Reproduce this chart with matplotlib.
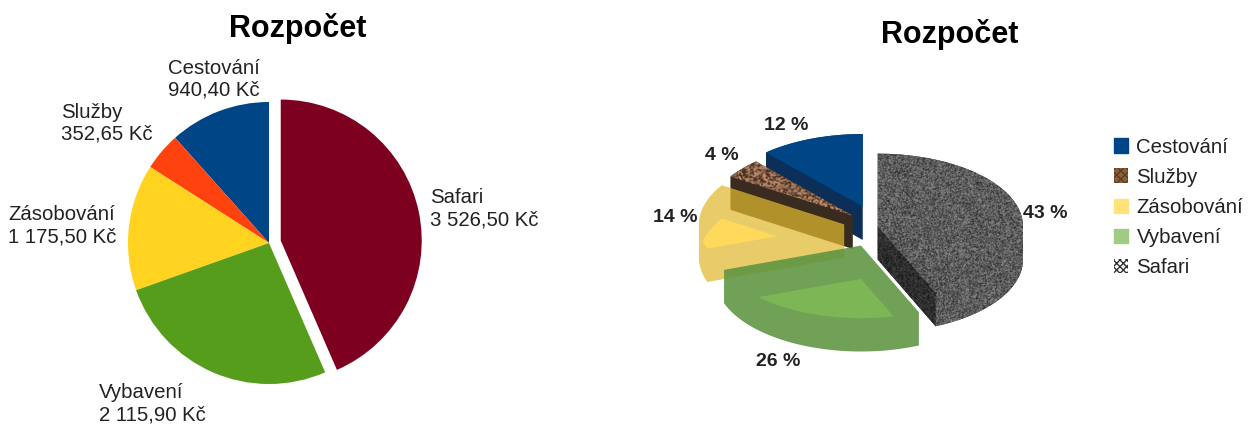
import numpy as np
import matplotlib
matplotlib.use("Agg")
import matplotlib.pyplot as plt
from matplotlib.patches import Patch, Polygon

plt.rcParams["font.family"] = ["Liberation Sans", "DejaVu Sans"]

W, H = 1252, 428

categories = ["Cestování", "Služby", "Zásobování", "Vybavení", "Safari"]
values = [940.40, 352.65, 1175.50, 2115.90, 3526.50]

explode_left = [0, 0, 0, 0, 0.085]
explode_right = [0.289, 0.225, 0.232, 0.289, 0]
colors_left = ["#004586", "#ff420e", "#ffd320", "#579d1c", "#7e0021"]
wall_colors = ["#0b2f58", "#3a2b20", "#e0b92f", "#5c9440", "#444444"]
wall_alpha = [1, 1, 0.72, 0.88, 1]
bright_colors = ["#004586", "#7a5a3c", "#ffd95c", "#7db655", "#6a6a6a"]
draw_order = [0, 4, 1, 2, 3]  # back to front

label_pos = [(168, 79), (61, 123), (8, 226), (99, 404), (430, 208.5)]
pct_pos = [(786, 126), (722, 156), (675, 218), (778, 361), (1045, 213)]


def money(v):
    s = f"{v:,.2f}".replace(",", " ").replace(".", ",")
    return s + " Kč"


def noise(shape, seed):
    # deterministic grain for the photo-like fills
    yy, xx = np.mgrid[0:shape[0], 0:shape[1]]
    n = np.sin((xx + seed) * 12.9898 + yy * 78.233) * 43758.5453
    n = n - np.floor(n)
    n = (n + np.roll(n, 1, 0) + np.roll(n, 1, 1) + np.roll(np.roll(n, 1, 0), 1, 1)) / 4
    return np.clip((n - 0.5) * 2.6 + 0.5, 0, 1)


def hull(points):
    pts = sorted(set(map(tuple, np.round(points, 5))))
    def half(seq):
        out = []
        for p in seq:
            while len(out) > 1 and ((out[-1][0] - out[-2][0]) * (p[1] - out[-2][1])
                                    - (out[-1][1] - out[-2][1]) * (p[0] - out[-2][0])) <= 0:
                out.pop()
            out.append(p)
        return out[:-1]
    return np.array(half(pts) + half(pts[::-1]))


def arc(w, dy=0.0):
    t = np.radians(np.linspace(w.theta1, w.theta2, 80))
    cx, cy = w.center
    xy = np.column_stack([cx + w.r * np.cos(t), cy + w.r * np.sin(t) + dy])
    return np.vstack([[cx, cy + dy], xy])


fig = plt.figure(figsize=(W / 100, H / 100), dpi=100, facecolor="white")

# left: flat pie
half_px = 1.25 * 141
ax1 = fig.add_axes([(269 - half_px) / W, (H - 243 - half_px) / H, 2 * half_px / W, 2 * half_px / H])
ax1.pie(values, explode=explode_left, colors=colors_left, startangle=90, radius=1)
ax1.set_xlim(-1.25, 1.25)
ax1.set_ylim(-1.25, 1.25)

fig.text(298 / W, 1 - 28 / H, "Rozpočet", fontsize=22, fontweight="bold", ha="center", va="center")
for name, v, (x, y) in zip(categories, values, label_pos):
    fig.text(x / W, 1 - y / H, f"{name}\n{money(v)}", fontsize=14.7, color="#222222",
             ha="left", va="center", linespacing=1.2)

# right: exploded pie drawn flat, squashed by the axis scales, with a depth
sx, sy = 145.3, 72.65
depth = 33.3 / sy
xl, yl = 1.6, 2.0
ax2 = fig.add_axes([(877.7 - xl * sx) / W, (H - 226.3 - yl * sy) / H, 2 * xl * sx / W, 2 * yl * sy / H])
top, _ = ax2.pie(values, explode=explode_right, colors=bright_colors, startangle=90, radius=1)
bottom, _ = ax2.pie(values, explode=explode_right, colors=bright_colors, startangle=90, radius=1,
                    center=(0, -depth))
ax2.set_aspect("auto")

grain = noise((600, 940), 3)
gray_img = 45 + grain * 95
brown = noise((300, 470), 11)[..., None]
brown_img = (np.array([70, 48, 32]) + brown * np.array([125, 95, 80])) / 255
extent = (-xl, xl, -yl, yl)

for rank, i in enumerate(draw_order):
    z = 2 + rank * 3
    t, b = top[i], bottom[i]
    outline = hull(np.vstack([arc(t), arc(t, -depth)]))
    ax2.add_patch(Polygon(outline, closed=True, fc=wall_colors[i], ec="none", alpha=wall_alpha[i], zorder=z))
    b.set_zorder(z + 1)
    t.set_zorder(z + 1)
    if i in (2, 3):
        # see-through slices: only the overlap of both faces is bright
        t.set_facecolor("none")
        b.set_clip_on(True)
        b.set_clip_path(t)
    elif i == 1:
        t.set_facecolor("none")
        b.set_visible(False)
        im = ax2.imshow(brown_img, extent=extent, aspect="auto", zorder=z + 1, interpolation="bilinear")
        im.set_clip_path(t)
    elif i == 4:
        t.set_facecolor("none")
        b.set_visible(False)
        im = ax2.imshow(gray_img, extent=extent, aspect="auto", cmap="gray", vmin=0, vmax=255,
                        zorder=z + 1, interpolation="bilinear")
        clip = Polygon(outline, closed=True, transform=ax2.transData)
        im.set_clip_path(clip)
        cx, cy = t.center
        end = np.radians(t.theta1)
        corner = (cx + np.cos(end), cy + np.sin(end))
        ax2.add_patch(Polygon([(cx, cy), corner, (corner[0], corner[1] - depth), (cx, cy - depth)],
                              closed=True, fc="black", ec="none", alpha=0.5, zorder=z + 2))
    else:
        b.set_visible(False)

ax2.set_xlim(-xl, xl)
ax2.set_ylim(-yl, yl)
ax2.axis("off")

fig.text(950 / W, 1 - 35 / H, "Rozpočet", fontsize=22, fontweight="bold", ha="center", va="center")
total = sum(values)
for v, (x, y) in zip(values, pct_pos):
    fig.text(x / W, 1 - y / H, f"{round(v / total * 100)} %", fontsize=14, fontweight="bold",
             color="#222222", ha="center", va="center")

handles = [
    Patch(fc="#004586", ec="#004586"),
    Patch(fc="#8a6038", ec="#5a3d25", hatch="xxxx", lw=0),
    Patch(fc="#ffe27a", ec="#ffe27a"),
    Patch(fc="#9fcb82", ec="#9fcb82"),
    Patch(fc="#ffffff", ec="#333333", hatch="xxxxx", lw=0),
]
fig.legend(handles, categories, loc="center left", bbox_to_anchor=(1114 / W, 1 - 207.5 / H), frameon=False,
           fontsize=14.7, handlelength=0.7, handleheight=0.7, handletextpad=0.4, labelspacing=0.55,
           labelcolor="#222222", borderpad=0, borderaxespad=0)

fig.savefig("out.png", dpi=100, facecolor="white")
